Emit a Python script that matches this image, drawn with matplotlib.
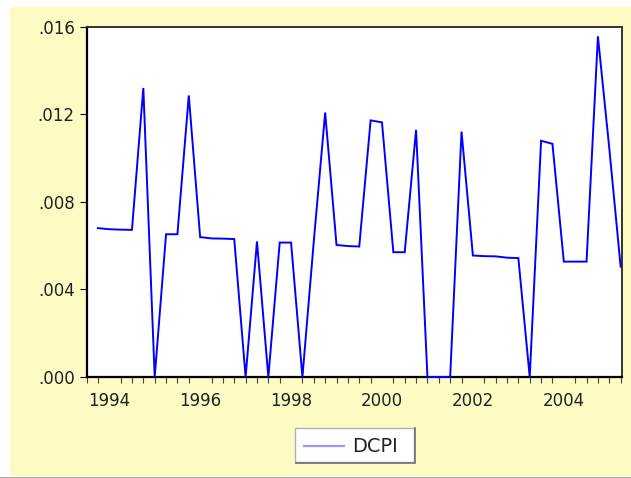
import matplotlib
matplotlib.use("Agg")
import matplotlib.pyplot as plt
from matplotlib.patches import Rectangle
from matplotlib.lines import Line2D
import numpy as np

# Quarterly observations 1994Q1 .. 2005Q3
start_year = 1994
dcpi = [0.00680, 0.00675, 0.00673, 0.00672, 0.01320, 0.00000, 0.00652, 0.00652,
        0.01286, 0.00639, 0.00633, 0.00632, 0.00630, 0.00000, 0.00619, 0.00000,
        0.00614, 0.00614, 0.00000, 0.00620, 0.01208, 0.00603, 0.00598, 0.00596,
        0.01172, 0.01163, 0.00570, 0.00570, 0.01129, 0.00000, 0.00000, 0.00000,
        0.01121, 0.00555, 0.00552, 0.00551, 0.00545, 0.00543, 0.00000, 0.01079,
        0.01065, 0.00527, 0.00527, 0.00527, 0.01556, 0.01045, 0.00504]
year_labels = ["1994", "1996", "1998", "2000", "2002", "2004"]
y_ticks = [0.000, 0.004, 0.008, 0.012, 0.016]
y_labels = [".000", ".004", ".008", ".012", ".016"]
series_name = "DCPI"

plt.rcParams['font.family'] = ['DejaVu Sans']

W, H = 631, 478
fig = plt.figure(figsize=(W / 100, H / 100), dpi=100)
fig.patch.set_facecolor("white")

def fx(px):
    return px / W

def fy(py):
    return 1 - py / H

# yellow background panel
fig.patches.append(Rectangle((fx(10), fy(476)), fx(631) - fx(10), fy(7) - fy(476),
                             transform=fig.transFigure, facecolor="#FEFAC4",
                             edgecolor="none", zorder=-5))
fig.lines.append(Line2D([fx(0), fx(631)], [fy(477.5), fy(477.5)], transform=fig.transFigure,
                        color="#9a9a9a", linewidth=1.2, zorder=-4))

ax = fig.add_axes([fx(86.5), fy(377), fx(622) - fx(86.5), fy(26.7) - fy(377)])
ax.set_zorder(1)
ax.set_facecolor("white")

t = start_year + np.arange(len(dcpi)) / 4.0
ax.plot(t, dcpi, color="#0000FF", linewidth=1.4, solid_joinstyle="miter",
        clip_on=False, zorder=3)

ax.set_xlim(start_year - 0.25, t[-1] + 0.03)
ax.set_ylim(0, 0.016)

ax.set_yticks(y_ticks)
ax.set_yticklabels(y_labels, fontsize=12, color="#222222")
ax.set_xticks([int(y) + 0.25 for y in year_labels])
ax.set_xticklabels(year_labels, fontsize=12, color="#222222")
ax.set_xticks(np.arange(start_year - 0.25, t[-1] + 0.01, 0.25), minor=True)
ax.tick_params(axis="x", which="major", length=0, pad=11)
ax.tick_params(axis="x", which="minor", length=4, width=0.8, color="#444444", direction="out")
ax.tick_params(axis="y", which="major", length=5, width=0.8, direction="out", pad=3.5)
ax.tick_params(top=False, right=False)

for s in ["left", "bottom"]:
    ax.spines[s].set_linewidth(1.6)
    ax.spines[s].set_color("black")
for s in ["top", "right"]:
    ax.spines[s].set_linewidth(1.4)
    ax.spines[s].set_color("#333333")

# legend box
lx0, lx1, ly0, ly1 = 295, 414, 428, 462
fig.patches.append(Rectangle((fx(lx0), fy(ly1)), fx(lx1) - fx(lx0), fy(ly0) - fy(ly1),
                             transform=fig.transFigure, facecolor="white",
                             edgecolor="#b0b0b0", linewidth=1.0, zorder=2))
fig.lines.append(Line2D([fx(lx0 + 1), fx(lx1)], [fy(ly1 + 0.8), fy(ly1 + 0.8)],
                        transform=fig.transFigure, color="#707070", linewidth=1.2, zorder=3))
fig.lines.append(Line2D([fx(lx1 + 0.5), fx(lx1 + 0.5)], [fy(ly1 + 1), fy(ly0)],
                        transform=fig.transFigure, color="#707070", linewidth=1.2, zorder=3))
fig.lines.append(Line2D([fx(304), fx(344)], [fy(446), fy(446)], transform=fig.transFigure,
                        color="#9999FF", linewidth=1.6, zorder=3))
fig.text(fx(352), fy(446), series_name, fontsize=14, color="#222222",
         ha="left", va="center", zorder=4)

fig.savefig("out.png", dpi=100, facecolor=fig.get_facecolor())
